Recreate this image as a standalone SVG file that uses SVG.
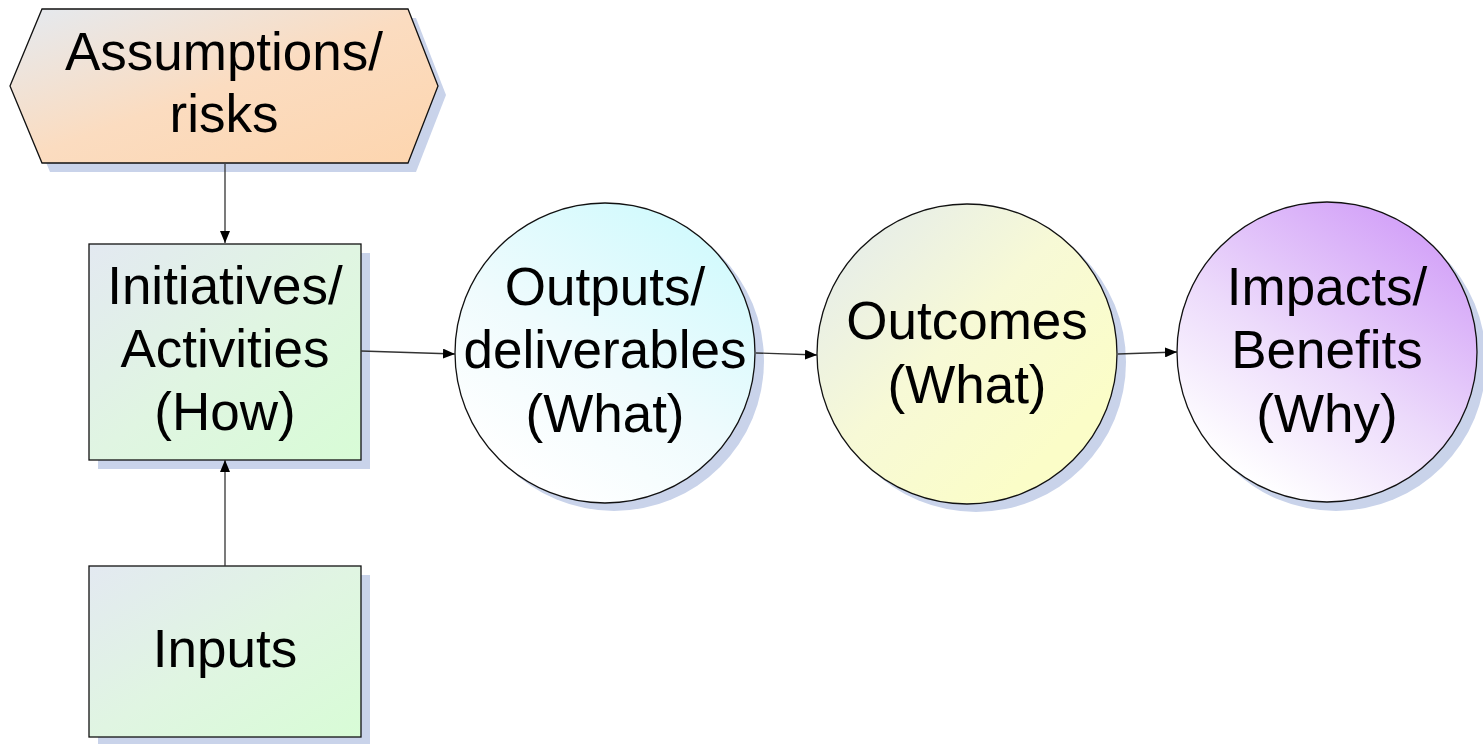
<svg xmlns="http://www.w3.org/2000/svg" width="1483" height="744" viewBox="0 0 1483 744">
<defs>
  <linearGradient id="gHex" x1="0" y1="0" x2="1" y2="1">
    <stop offset="0" stop-color="#e4eaf1"/>
    <stop offset="0.5" stop-color="#fbdcc0"/>
    <stop offset="1" stop-color="#fdd5ae"/>
  </linearGradient>
  <linearGradient id="gRect" x1="0" y1="0" x2="1" y2="1">
    <stop offset="0" stop-color="#e3e9f1"/>
    <stop offset="0.5" stop-color="#e0f5e2"/>
    <stop offset="1" stop-color="#d8fcd6"/>
  </linearGradient>
  <linearGradient id="gOut" x1="0.2" y1="0.9" x2="0.75" y2="0.05">
    <stop offset="0" stop-color="#ffffff"/>
    <stop offset="0.45" stop-color="#effbfd"/>
    <stop offset="1" stop-color="#d2fafd"/>
  </linearGradient>
  <linearGradient id="gOutc" x1="0.1" y1="0.1" x2="0.8" y2="0.8">
    <stop offset="0" stop-color="#e6ede9"/>
    <stop offset="0.5" stop-color="#f7f9d6"/>
    <stop offset="1" stop-color="#fbfdc8"/>
  </linearGradient>
  <linearGradient id="gImp" x1="0.2" y1="0.9" x2="0.75" y2="0.05">
    <stop offset="0" stop-color="#ffffff"/>
    <stop offset="0.45" stop-color="#ecdafb"/>
    <stop offset="1" stop-color="#d3a2f8"/>
  </linearGradient>
  <marker id="arr" viewBox="0 0 12 10" refX="12" refY="5" markerWidth="12" markerHeight="10" markerUnits="userSpaceOnUse" orient="auto">
    <path d="M0,0 L12,5 L0,10 Z" fill="#000"/>
  </marker>
  <style>
    .shadow { fill: #c9d3ea; stroke: none; }
    .shape { stroke: #111; stroke-width: 1.3; }
    .lbl { font-family: "Liberation Sans", Arial, sans-serif; font-size: 53px; fill: #000; text-anchor: middle; }
    .conn { stroke: #333; stroke-width: 1.3; fill: none; marker-end: url(#arr); }
  </style>
</defs>
<rect width="1483" height="744" fill="#ffffff"/>

<g id="assumptions">
  <polygon class="shadow" points="50,18 416,18 446,95 416,172 50,172 18,95"/>
  <polygon class="shape" fill="url(#gHex)" points="42,9 408,9 438,86 408,163 42,163 10,86"/>
  <text class="lbl" x="224" y="70">Assumptions/</text>
  <text class="lbl" x="224" y="132">risks</text>
</g>

<g id="initiatives">
  <rect class="shadow" x="98" y="253" width="272" height="216"/>
  <rect class="shape" fill="url(#gRect)" x="89" y="244" width="272" height="216"/>
  <text class="lbl" x="225" y="304">Initiatives/</text>
  <text class="lbl" x="225" y="367">Activities</text>
  <text class="lbl" x="225" y="430">(How)</text>
</g>

<g id="inputs">
  <rect class="shadow" x="98" y="575" width="272" height="171"/>
  <rect class="shape" fill="url(#gRect)" x="89" y="566" width="272" height="171"/>
  <text class="lbl" x="225" y="667">Inputs</text>
</g>

<g id="outputs">
  <circle class="shadow" cx="614" cy="361" r="150"/>
  <circle class="shape" fill="url(#gOut)" cx="605" cy="353" r="150"/>
  <text class="lbl" x="605" y="305">Outputs/</text>
  <text class="lbl" x="605" y="368">deliverables</text>
  <text class="lbl" x="605" y="432">(What)</text>
</g>

<g id="outcomes">
  <circle class="shadow" cx="976" cy="362" r="150"/>
  <circle class="shape" fill="url(#gOutc)" cx="967" cy="354" r="150"/>
  <text class="lbl" x="967" y="339">Outcomes</text>
  <text class="lbl" x="967" y="403">(What)</text>
</g>

<g id="impacts">
  <circle class="shadow" cx="1336" cy="361" r="150"/>
  <circle class="shape" fill="url(#gImp)" cx="1327" cy="352" r="150"/>
  <text class="lbl" x="1327" y="305">Impacts/</text>
  <text class="lbl" x="1327" y="368">Benefits</text>
  <text class="lbl" x="1327" y="432">(Why)</text>
</g>

<g id="connectors">
  <line class="conn" x1="225" y1="164" x2="225" y2="243"/>
  <line class="conn" x1="225" y1="566" x2="225" y2="460"/>
  <line class="conn" x1="361" y1="351" x2="455" y2="354"/>
  <line class="conn" x1="756" y1="353" x2="817" y2="355"/>
  <line class="conn" x1="1118" y1="354" x2="1177" y2="352"/>
</g>
</svg>
